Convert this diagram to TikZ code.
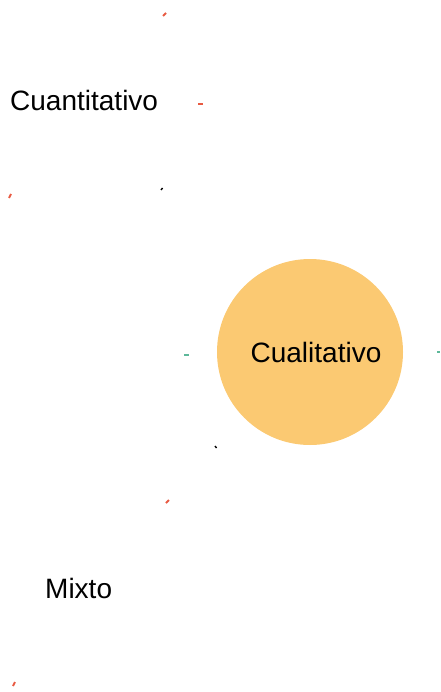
\documentclass[tikz,border=0pt]{standalone}
\usepackage{fontspec}
\setmainfont{Liberation Sans}
\usetikzlibrary{positioning}
\definecolor{circfill}{HTML}{FBC972}
\definecolor{tipred}{HTML}{E85A42}
\definecolor{tipgreen}{HTML}{5DB89A}

\begin{document}
\begin{tikzpicture}[
  x=1pt, y=-1pt,
  label/.style={inner sep=0pt, font=\fontsize{28}{31}\selectfont, anchor=west},
  bubble/.style={circle, fill=circfill, minimum size=186pt, inner sep=0pt},
  tick/.style={line width=2pt},
  redtick/.style={tick, tipred},
  greentick/.style={tick, tipgreen},
  blacktick/.style={line width=1.4pt, black}
]
\useasboundingbox (0,0) rectangle (440,692);

% Main categories
\node[bubble] (cual) at (310,352) {};
\node[label, anchor=center] (cualtext) at ([xshift=6pt]cual.center) {Cualitativo};
\node[label] (cuant) at (10,100) {Cuantitativo};
\node[label] (mixto) at (45,588) {Mixto};

% Leftover tips
\coordinate (r1) at (163,16);
\coordinate (r2) at (198,104);
\coordinate (r3) at (9,198);
\coordinate (k1) at (161,190);
\coordinate (g1) at (184,355);
\coordinate (g2) at (437,352);
\coordinate (k2) at (215,446);
\coordinate (r4) at (166,503);
\coordinate (r5) at (13,686);

\draw[redtick] (r1) -- ++(3,-3);
\draw[redtick] (r2) -- ++(5,0);
\draw[redtick] (r3) -- ++(2,-4);
\draw[blacktick] (k1) -- ++(1.5,-2);
\draw[greentick] (g1) -- ++(5,0);
\draw[greentick] (g2) -- ++(3,0);
\draw[blacktick] (k2) -- ++(1.5,2);
\draw[redtick] (r4) -- ++(3,-3);
\draw[redtick] (r5) -- ++(2,-4);
\end{tikzpicture}
\end{document}
